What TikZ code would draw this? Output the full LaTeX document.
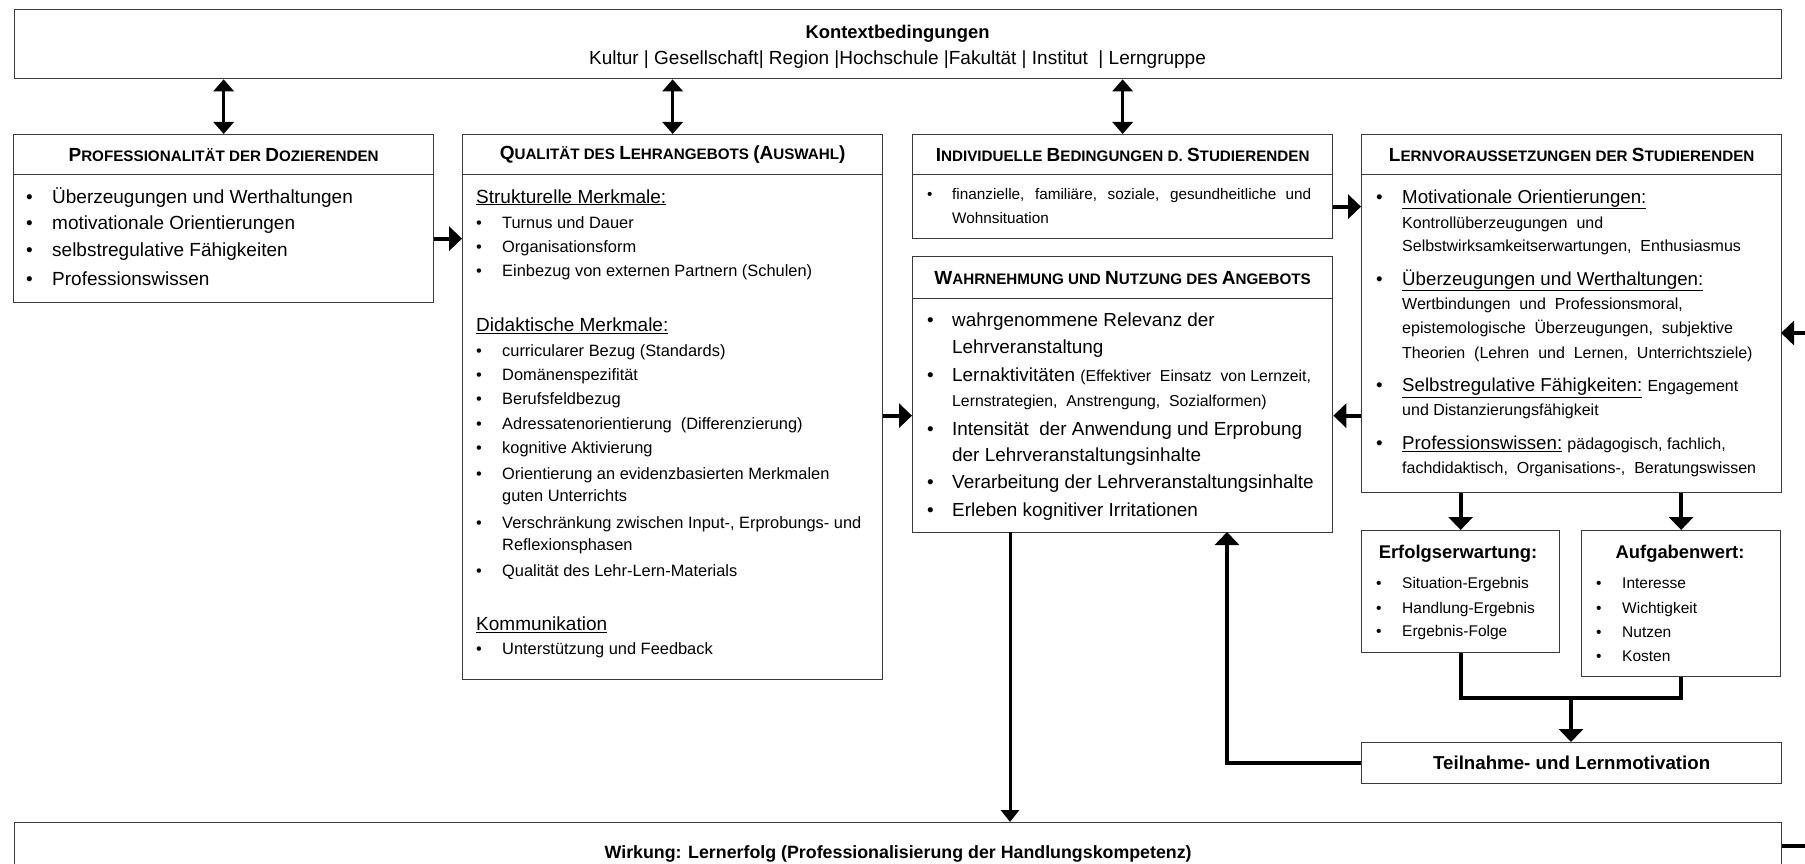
\documentclass[tikz,border=0pt]{standalone}
\usepackage{fontspec}
\setmainfont{Liberation Sans}
\usetikzlibrary{arrows.meta}

\setlength{\parindent}{0pt}
\definecolor{rahmen}{HTML}{3A3A3A}

% bullet lists, one line per call
\newlength{\pktbreite}
\setlength{\pktbreite}{26pt}
\newcommand{\pkt}{\makebox[\pktbreite][l]{\textbullet}}
\newcommand{\ein}{\hspace*{\pktbreite}}
\newcommand{\zl}[3]{{\fontsize{#1}{#2}\selectfont #3\par}}
% fake small caps for the headings
\newcommand{\kap}[2]{{\fontsize{19}{19}\selectfont #1}{\fontsize{15.2}{15.2}\selectfont #2}}

\tikzset{
  kasten/.style={draw=rahmen, line width=1.3pt, anchor=north west, inner sep=0pt},
  kopf/.style={kasten, font=\bfseries, minimum width=420pt, minimum height=40pt},
  txt/.style={anchor=base west, inner sep=0pt},
  titel/.style={anchor=base, inner sep=0pt, font=\bfseries\fontsize{18.4}{20}\selectfont},
  pfeil/.style={line width=4pt, -{Triangle[width=24pt,length=13pt]}},
  duennpfeil/.style={line width=3pt, -{Triangle[width=18pt,length=12pt]}},
  doppelpfeil/.style={line width=3pt, {Triangle[width=20pt,length=12pt]}-{Triangle[width=20pt,length=12pt]}},
  linie/.style={line width=4pt}
}

\begin{document}
\begin{tikzpicture}[x=1pt, y=-1pt]
  \useasboundingbox (0,0) rectangle (1805,864);

  % context and outcome
  \node[kasten, minimum width=1767pt, minimum height=69pt] (kontext) at (14,9) {};
  \node[titel] (kontexttitel) at (897.5,38.5) {Kontextbedingungen};
  \node[anchor=base, inner sep=0pt, font=\fontsize{19}{20}\selectfont] (kontextzeile) at (897.5,65)
    {Kultur | Gesellschaft| Region |Hochschule |Fakultät | Institut \ | Lerngruppe};
  \node[kasten, minimum width=1767pt, minimum height=62pt,
        font=\bfseries\fontsize{17.8}{20}\selectfont] (wirkung) at (14,822)
    {Wirkung: Lernerfolg (Professionalisierung der Handlungskompetenz)};

  % headings
  \node[kopf] (profkopf) at (13,134) {\kap{P}{ROFESSIONALITÄT DER }\kap{D}{OZIERENDEN}};
  \node[kopf] (qualkopf) at (462,134) {\kap{Q}{UALITÄT DES }\kap{L}{EHRANGEBOTS }\kap{(A}{USWAHL}\kap{)}{}};
  \node[kopf] (indivkopf) at (912,134) {\kap{I}{NDIVIDUELLE }\kap{B}{EDINGUNGEN D. }\kap{S}{TUDIERENDEN}};
  \node[kopf] (lernkopf) at (1361,134) {\kap{L}{ERNVORAUSSETZUNGEN DER }\kap{S}{TUDIERENDEN}};
  \node[kopf, minimum height=42pt] (wahrkopf) at (912,256) {\kap{W}{AHRNEHMUNG UND }\kap{N}{UTZUNG DES }\kap{A}{NGEBOTS}};

  % boxes
  \node[kasten, minimum width=420pt, minimum height=128pt] (prof) at (13,174) {};
  \node[kasten, minimum width=420pt, minimum height=505pt] (qual) at (462,174) {};
  \node[kasten, minimum width=420pt, minimum height=64pt] (indiv) at (912,174) {};
  \node[kasten, minimum width=420pt, minimum height=318pt] (lern) at (1361,174) {};
  \node[kasten, minimum width=420pt, minimum height=234pt] (wahr) at (912,298) {};
  \node[kasten, minimum width=198pt, minimum height=122pt] (erfolg) at (1361,530) {};
  \node[kasten, minimum width=199pt, minimum height=146pt] (aufgaben) at (1581,530) {};
  \node[kasten, minimum width=420pt, minimum height=41pt,
        font=\bfseries\fontsize{18.7}{20}\selectfont] (teilnahme) at (1361,742)
    {Teilnahme- und Lernmotivation};

  % box texts
  \node[txt] (proftxt) at (26,203) {\parbox[t]{400pt}{%
    \zl{19}{27.5}{\pkt Überzeugungen und Werthaltungen}
    \zl{19}{27}{\pkt motivationale Orientierungen}
    \zl{19}{27}{\pkt selbstregulative Fähigkeiten}
    \zl{19}{28.5}{\pkt Professionswissen}}};

  \node[txt] (qualtxt) at (476,203) {\parbox[t]{400pt}{%
    \zl{19}{25}{\underline{Strukturelle Merkmale:}}
    \zl{16.4}{25}{\pkt Turnus und Dauer}
    \zl{16.4}{25}{\pkt Organisationsform}
    \zl{16.4}{23.7}{\pkt Einbezug von externen Partnern (Schulen)}
    \zl{19}{55}{\underline{Didaktische Merkmale:}}
    \zl{16.4}{25}{\pkt curricularer Bezug (Standards)}
    \zl{16.4}{24}{\pkt Domänenspezifität}
    \zl{16.4}{24.3}{\pkt Berufsfeldbezug}
    \zl{16.4}{24.3}{\pkt Adressatenorientierung \ (Differenzierung)}
    \zl{16.4}{24.7}{\pkt kognitive Aktivierung}
    \zl{16.4}{25.3}{\pkt Orientierung an evidenzbasierten Merkmalen}
    \zl{16.4}{22.4}{\ein guten Unterrichts}
    \zl{16.4}{26.6}{\pkt Verschränkung zwischen Input-, Erprobungs- und}
    \zl{16.4}{22.4}{\ein Reflexionsphasen}
    \zl{16.4}{26}{\pkt Qualität des Lehr-Lern-Materials}
    \zl{19}{54}{\underline{Kommunikation}}
    \zl{16.4}{24.3}{\pkt Unterstützung und Feedback}}};

  \node[txt] (indivtxt) at (927,200) {\parbox[t]{400pt}{\setlength{\pktbreite}{25pt}%
    \zl{15.3}{23}{\pkt\makebox[359pt][s]{finanzielle, familiäre, soziale, gesundheitliche und}}
    \zl{15.3}{23.3}{\ein Wohnsituation}}};

  \node[txt] (wahrtxt) at (927,326.7) {\parbox[t]{400pt}{\setlength{\pktbreite}{25pt}%
    \zl{18.9}{26.6}{\pkt wahrgenommene Relevanz der}
    \zl{18.9}{26.6}{\ein Lehrveranstaltung}
    \zl{18.9}{28.4}{\pkt Lernaktivitäten {\fontsize{15.8}{28.4}\selectfont (Effektiver \ Einsatz \ von Lernzeit,}}
    \zl{15.8}{24.3}{\ein Lernstrategien, \ Anstrengung, \ Sozialformen)}
    \zl{18.9}{29}{\pkt Intensität \ der Anwendung und Erprobung}
    \zl{18.9}{26.7}{\ein der Lehrveranstaltungsinhalte}
    \zl{18.9}{26.6}{\pkt Verarbeitung der Lehrveranstaltungsinhalte}
    \zl{18.9}{28.4}{\pkt Erleben kognitiver Irritationen}}};

  \node[txt] (lerntxt) at (1376,203.3) {\parbox[t]{400pt}{%
    \zl{18.7}{27}{\pkt\underline{Motivationale Orientierungen:}}
    \zl{16}{25}{\ein Kontrollüberzeugungen \ und}
    \zl{16}{23.4}{\ein Selbstwirksamkeitserwartungen, \ Enthusiasmus}
    \zl{18.7}{33.3}{\pkt\underline{Überzeugungen und Werthaltungen:}}
    \zl{16}{25}{\ein Wertbindungen \ und \ Professionsmoral,}
    \zl{16}{23.3}{\ein epistemologische \ Überzeugungen, \ subjektive}
    \zl{16}{25}{\ein Theorien \ (Lehren \ und \ Lernen, \ Unterrichtsziele)}
    \zl{18.7}{33.4}{\pkt\underline{Selbstregulative Fähigkeiten:} {\fontsize{16}{33.4}\selectfont Engagement}}
    \zl{16}{24.3}{\ein und Distanzierungsfähigkeit}
    \zl{18.7}{34}{\pkt\underline{Professionswissen:} {\fontsize{16}{34}\selectfont pädagogisch, fachlich,}}
    \zl{16}{24}{\ein fachdidaktisch, \ Organisations-, \ Beratungswissen}}};

  \node[titel] (erfolgtitel) at (1458,558) {Erfolgserwartung:};
  \node[txt] (erfolgtxt) at (1376,588.3) {\parbox[t]{180pt}{%
    \zl{15.5}{25}{\pkt Situation-Ergebnis}
    \zl{15.5}{25}{\pkt Handlung-Ergebnis}
    \zl{15.5}{23.4}{\pkt Ergebnis-Folge}}};

  \node[titel] (aufgabentitel) at (1680,558) {Aufgabenwert:};
  \node[txt] (aufgabentxt) at (1596,588.3) {\parbox[t]{180pt}{%
    \zl{15.5}{25}{\pkt Interesse}
    \zl{15.5}{25}{\pkt Wichtigkeit}
    \zl{15.5}{23.7}{\pkt Nutzen}
    \zl{15.5}{24.7}{\pkt Kosten}}};

  % context arrows
  \draw[doppelpfeil] (kontext.south -| profkopf.north) -- (profkopf.north);
  \draw[doppelpfeil] (kontext.south -| qualkopf.north) -- (qualkopf.north);
  \draw[doppelpfeil] (kontext.south -| indivkopf.north) -- (indivkopf.north);

  % arrows between the boxes
  \draw[pfeil] (prof.east) -- (prof.east -| qual.west);
  \draw[pfeil] (wahr.west -| qual.east) -- (wahr.west);
  \draw[pfeil] (indiv.east) -- (indiv.east -| lern.west);
  \draw[pfeil] (wahr.east -| lern.west) -- (wahr.east);
  \draw[pfeil] (lern.south -| erfolg.north) -- (erfolg.north);
  \draw[pfeil] (lern.south -| aufgaben.north) -- (aufgaben.north);

  % motivation
  \coordinate (knoten) at (1571,698);
  \draw[linie] (erfolg.south) |- (knoten) -| (aufgaben.south);
  \draw[pfeil] ([yshift=1.5pt]knoten) -- (knoten |- teilnahme.north);
  \coordinate (wahrzu) at (1227,532);
  \draw[pfeil] (teilnahme.west) -| (wahrzu);

  % outcome and feedback
  \coordinate (wahrab) at (1010,532);
  \draw[duennpfeil] (wahrab) -- (wahrab |- wirkung.north);
  \coordinate (lernrand) at (1781,333);
  \draw[pfeil] ([yshift=8pt]wirkung.east) -| ([xshift=60pt]lernrand) -- (lernrand);
\end{tikzpicture}
\end{document}
